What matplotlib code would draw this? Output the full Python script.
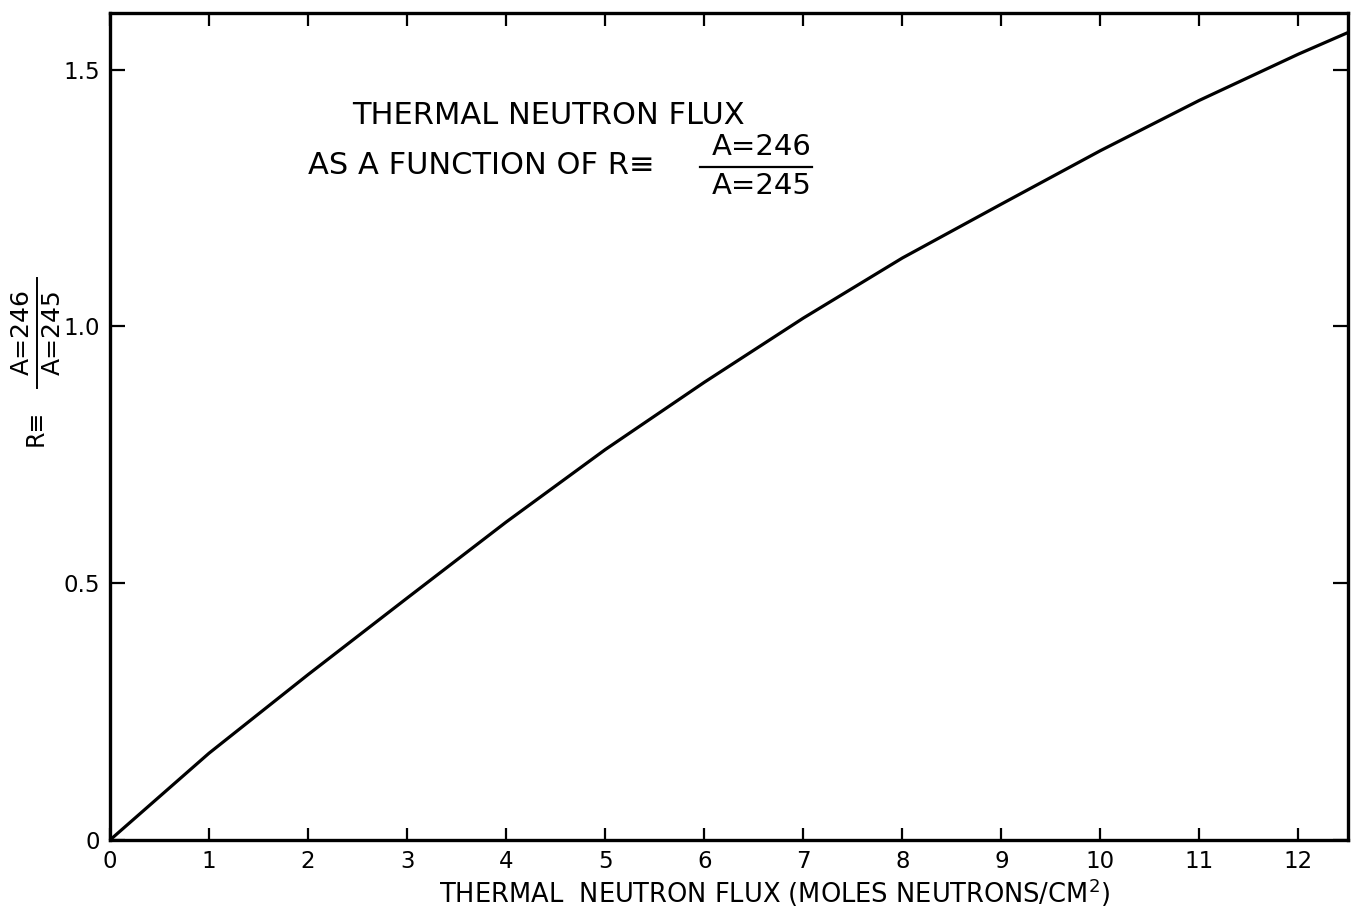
import matplotlib.pyplot as plt
from matplotlib.lines import Line2D

# values
flux = [0, 1, 2, 3, 4, 5, 6, 7, 8, 9, 10, 11, 12, 12.5]
ratio = [0, 0.169, 0.322, 0.471, 0.619, 0.760, 0.891, 1.016, 1.133, 1.238, 1.342, 1.44, 1.53, 1.572]

x_ticks = list(range(0, 13))
y_ticks = [0, 0.5, 1.0, 1.5]
y_tick_labels = ["0", "0.5", "1.0", "1.5"]

W, H = 1351, 910
plt.rcParams["font.family"] = ["DejaVu Sans"]

fig = plt.figure(figsize=(W / 100, H / 100), dpi=100)
ax = fig.add_axes([110 / W, 1 - 840 / H, (1348 - 110) / W, (840 - 13) / H])

ax.plot(flux, ratio, color="black", lw=2.3, solid_capstyle="round", solid_joinstyle="round")

ax.set_xlim(0, 12.5)
ax.set_ylim(0, 1.61)
ax.set_xticks(x_ticks)
ax.set_yticks(y_ticks)
ax.set_yticklabels(y_tick_labels)
ax.tick_params(direction="in", top=True, right=True, length=9, width=1.6,
               labelsize=16.5, pad=7)
ax.tick_params(axis="y", length=11)
for s in ax.spines.values():
    s.set_linewidth(2.4)


def fx(px):
    return px / W


def fy(py):
    return 1 - py / H


fs = 22
fig.text(fx(548), fy(116), "THERMAL NEUTRON FLUX", fontsize=fs, ha="center", va="center")
fig.text(fx(655), fy(166), "AS A FUNCTION OF R\u2261", fontsize=fs, ha="right", va="center")
fig.text(fx(762), fy(147), "A=246", fontsize=21, ha="center", va="center")
fig.text(fx(762), fy(186), "A=245", fontsize=21, ha="center", va="center")
fig.add_artist(Line2D([fx(700), fx(812)], [fy(167), fy(167)], color="black", lw=1.6))

# rotated y label: R = (A=246)/(A=245)
fig.text(fx(36), fy(428), "R\u2261", fontsize=17, rotation=90, ha="center", va="center")
fig.text(fx(22), fy(332), "A=246", fontsize=18, rotation=90, ha="center", va="center")
fig.text(fx(53), fy(332), "A=245", fontsize=18, rotation=90, ha="center", va="center")
fig.add_artist(Line2D([fx(37), fx(37)], [fy(278), fy(388)], color="black", lw=1.4))

fig.text(fx(775), fy(893), "THERMAL  NEUTRON FLUX (MOLES NEUTRONS/CM$^2$)",
         fontsize=18.5, ha="center", va="center")

fig.savefig("out.png", dpi=100)
